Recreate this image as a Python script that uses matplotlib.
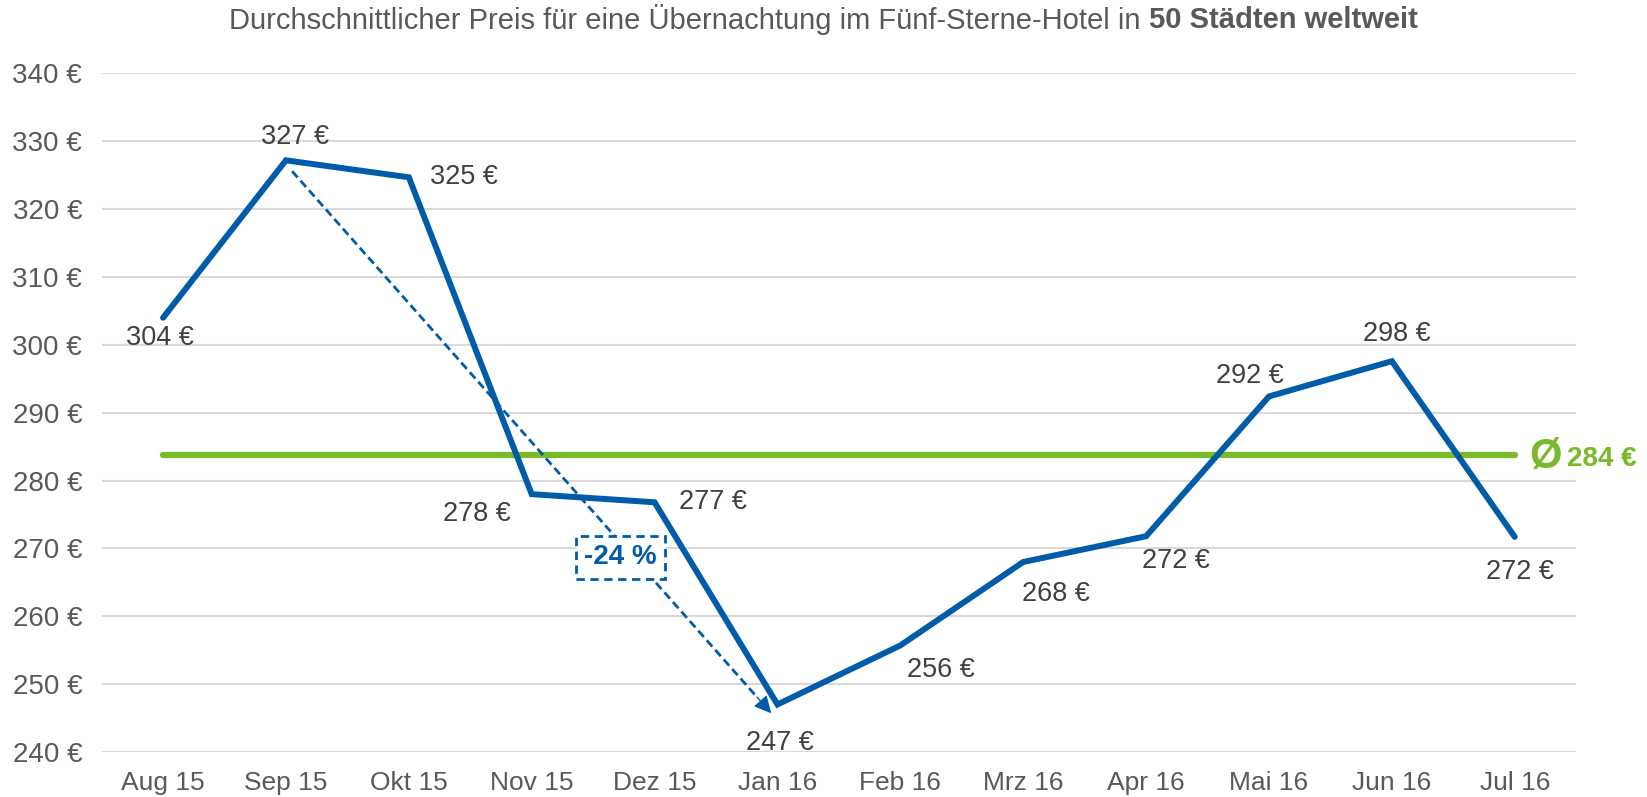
import numpy as np
import matplotlib
matplotlib.use("Agg")
import matplotlib.pyplot as plt

plt.rcParams['font.family'] = ['Liberation Sans', 'DejaVu Sans']

months = ['Aug 15', 'Sep 15', 'Okt 15', 'Nov 15', 'Dez 15', 'Jan 16',
          'Feb 16', 'Mrz 16', 'Apr 16', 'Mai 16', 'Jun 16', 'Jul 16']
prices = [304.0, 327.2, 324.7, 278.0, 276.8, 247.0,
          255.7, 268.0, 271.8, 292.4, 297.6, 271.7]
price_labels = ['304 €', '327 €', '325 €', '278 €', '277 €', '247 €',
                '256 €', '268 €', '272 €', '292 €', '298 €', '272 €']
avg_price = 283.8
avg_label = '284 €'
change_label = '-24 %'
yticks = [240, 250, 260, 270, 280, 290, 300, 310, 320, 330, 340]

blue = '#005CA9'
green = '#7AB929'
dark = '#404040'
grey = '#595959'

# label offsets in pixels relative to each point
offsets = [(-3, -20), (9, 23), (55, 0), (-55, -20), (58, 0), (2, -39),
           (41, -25), (33, -32), (30, -25), (-19, 20), (5, 27), (5, -35)]

fig = plt.figure(figsize=(16.47, 7.97), dpi=100)
ax = fig.add_axes([0.0617, 0.0565, 0.8953, 0.8513])

x = np.arange(len(months))
ax.set_xlim(-0.5, len(months) - 0.5)
ax.set_ylim(240, 340)
ax.set_yticks(yticks)
ax.set_yticklabels([f'{v} €' for v in yticks])
ax.set_xticks(x)
ax.set_xticklabels(months)
ax.tick_params(axis='both', length=0, labelsize=20, colors=grey)
ax.tick_params(axis='y', pad=14)
ax.tick_params(axis='x', pad=14, labelsize=19)
for s in ax.spines.values():
    s.set_visible(False)
ax.grid(axis='y', color='#D9D9D9', lw=1.5)
ax.set_axisbelow(True)

# average line
ax.plot([x[0], x[-1]], [avg_price, avg_price], color=green, lw=4.5,
        solid_capstyle='round', zorder=2)
ax.annotate('Ø', xy=(x[-1], avg_price), xytext=(15, -2),
            textcoords='offset pixels', ha='left', va='center',
            fontsize=30, fontweight='bold', color=green)
ax.annotate(avg_label, xy=(x[-1], avg_price), xytext=(52, -4),
            textcoords='offset pixels', ha='left', va='center',
            fontsize=20, fontweight='bold', color=green)

# price line
ax.plot(x, prices, color=blue, lw=4.3, solid_capstyle='round',
        solid_joinstyle='miter', zorder=3)

for xi, p, lab, (dx, dy) in zip(x, prices, price_labels, offsets):
    ax.annotate(lab, xy=(xi, p), xytext=(dx, dy), textcoords='offset pixels',
                ha='center', va='center', fontsize=19.5, color=dark)

# dashed trend arrow: dashed shaft plus solid head
start = np.array([1.05, 325.6])
tip = np.array([4.95, 245.7])
back = tip - 0.03 * (tip - start)
ax.plot([start[0], back[0]], [start[1], back[1]], color=blue, lw=2,
        ls=(0, (3, 1.6)), zorder=2)
ax.annotate('', xy=tuple(tip), xytext=tuple(back),
            arrowprops=dict(arrowstyle='-|>', color=blue, lw=1,
                            mutation_scale=26, shrinkA=0, shrinkB=0),
            zorder=2)
ax.text(3.72, 268.7, change_label, ha='center', va='center', fontsize=20,
        fontweight='bold', color=blue, zorder=4,
        bbox=dict(boxstyle='square,pad=0.3', fc='white', ec=blue, lw=2,
                  ls=(0, (3, 2))))

# title with bold part
renderer = fig.canvas.get_renderer()
part1 = 'Durchschnittlicher Preis für eine Übernachtung im Fünf-Sterne-Hotel in '
part2 = '50 Städten weltweit'
t1 = fig.text(0, 0.975, part1, fontsize=21, color=grey, va='center')
t2 = fig.text(0, 0.975, part2, fontsize=21, color=grey, va='center',
              fontweight='bold')
w1 = t1.get_window_extent(renderer).width
w2 = t2.get_window_extent(renderer).width
W = fig.bbox.width
x0 = (W - w1 - w2) / 2 / W
t1.set_x(x0)
t2.set_x(x0 + w1 / W)

fig.savefig('out.png', dpi=100)
